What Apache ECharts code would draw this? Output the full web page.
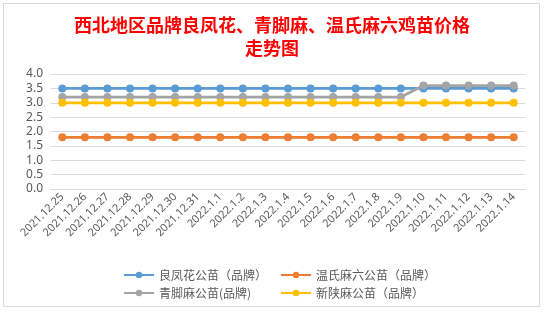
<!DOCTYPE html>
<html><head><meta charset="utf-8">
<script src="https://cdn.jsdelivr.net/npm/echarts@6/dist/echarts.min.js"></script>
<style>html,body{margin:0;padding:0;background:#fff}#c{width:544px;height:314px}</style>
</head><body><div id="c"></div>
<script>
const categories = ['2021.12.25','2021.12.26','2021.12.27','2021.12.28','2021.12.29','2021.12.30','2021.12.31','2022.1.1','2022.1.2','2022.1.3','2022.1.4','2022.1.5','2022.1.6','2022.1.7','2022.1.8','2022.1.9','2022.1.10','2022.1.11','2022.1.12','2022.1.13','2022.1.14'];
const liangfenghua = [3.5,3.5,3.5,3.5,3.5,3.5,3.5,3.5,3.5,3.5,3.5,3.5,3.5,3.5,3.5,3.5,3.5,3.5,3.5,3.5,3.5];
const wenshima = [1.8,1.8,1.8,1.8,1.8,1.8,1.8,1.8,1.8,1.8,1.8,1.8,1.8,1.8,1.8,1.8,1.8,1.8,1.8,1.8,1.8];
const qingjiaoma = [3.2,3.2,3.2,3.2,3.2,3.2,3.2,3.2,3.2,3.2,3.2,3.2,3.2,3.2,3.2,3.2,3.6,3.6,3.6,3.6,3.6];
const xinshanma = [3.0,3.0,3.0,3.0,3.0,3.0,3.0,3.0,3.0,3.0,3.0,3.0,3.0,3.0,3.0,3.0,3.0,3.0,3.0,3.0,3.0];
const yTicks = ['0.0','0.5','1.0','1.5','2.0','2.5','3.0','3.5','4.0'];
const names = ['良凤花公苗（品牌）','温氏麻六公苗（品牌）','青脚麻公苗(品牌)','新陕麻公苗（品牌）'];
const colors = ['#5B9BD5','#ED7D31','#A5A5A5','#FFC000'];

const chart = echarts.init(document.getElementById('c'));
function mk(name, data, color){
  return {name:name, type:'line', data:data, symbol:'circle', symbolSize:8,
    itemStyle:{color:color}, lineStyle:{color:color, width:2.75}, emphasis:{disabled:true}};
}
chart.setOption({
  animation:false,
  backgroundColor:'#fff',
  graphic:[{type:'rect', shape:{x:3.5,y:3.5,width:536,height:303}, style:{fill:'none', stroke:'#D9D9D9', lineWidth:1}, silent:true}],
  title:{text:'西北地区品牌良凤花、青脚麻、温氏麻六鸡苗价格\n走势图', left:'center', top:9,
    textStyle:{color:'#FF0000', fontSize:18, fontWeight:'bold', fontFamily:'Noto Sans CJK SC', lineHeight:23}},
  legend:[
    {orient:'vertical', left:118, top:264, itemGap:6, itemWidth:30, itemHeight:8,
     data:[names[0],names[2]], textStyle:{color:'#595959', fontSize:12, fontFamily:'Noto Sans CJK SC'}},
    {orient:'vertical', left:275, top:264, itemGap:6, itemWidth:30, itemHeight:8,
     data:[names[1],names[3]], textStyle:{color:'#595959', fontSize:12, fontFamily:'Noto Sans CJK SC'}}
  ],
  grid:{left:51, right:19, top:74, height:115, containLabel:false},
  xAxis:{type:'category', data:categories, boundaryGap:true,
    axisLine:{lineStyle:{color:'#D9D9D9'}}, axisTick:{show:false},
    axisLabel:{rotate:45, color:'#595959', fontSize:11, interval:0, margin:6, fontFamily:'Noto Sans'}},
  yAxis:{type:'value', min:0, max:4, interval:0.5,
    axisLine:{show:false}, axisTick:{show:false},
    splitLine:{lineStyle:{color:'#D9D9D9'}},
    axisLabel:{color:'#595959', fontSize:12, margin:8, fontFamily:'Noto Sans',
      formatter:function(v){ return yTicks[Math.round(v/0.5)]; }}},
  series:[mk(names[0],liangfenghua,colors[0]), mk(names[1],wenshima,colors[1]), mk(names[2],qingjiaoma,colors[2]), mk(names[3],xinshanma,colors[3])]
});
</script></body></html>
